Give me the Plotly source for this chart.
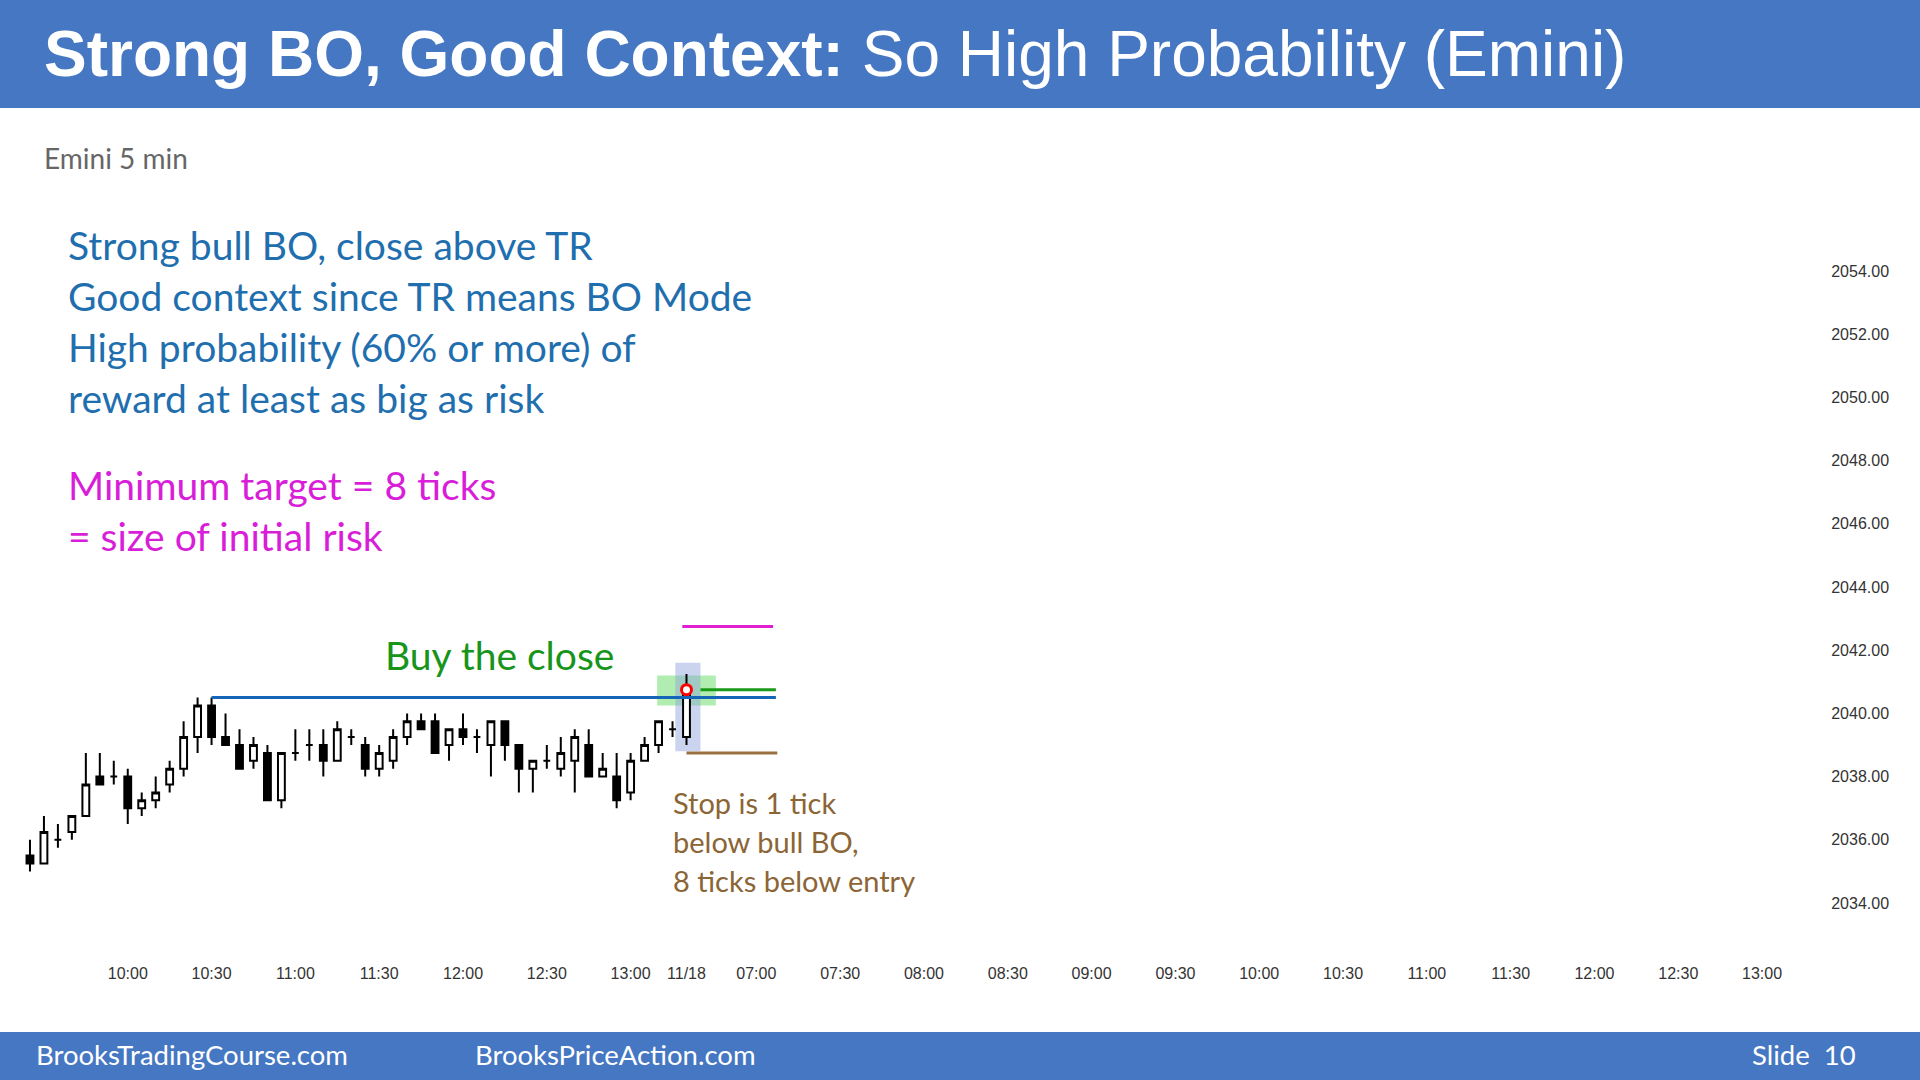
import plotly.graph_objects as go

opens  = [2035.5,2035.25,2036.0,2036.25,2036.75,2038.0,2038.0,2038.0,2037.0,2037.25,2037.75,2038.25,2039.25,2040.25,2039.25,2039.0,2038.5,2038.75,2037.25,2038.75,2039.0,2039.0,
          2038.5,2039.25,2039.0,2038.25,2038.5,2039.25,2039.75,2039.75,2039.0,2039.5,2039.25,2039.0,2039.75,2039.0,2038.25,2038.5,2038.25,2038.5,2039.0,2038.0,2038.0,2037.5,2038.5,2039.0,2039.5,2039.25]
highs  = [2036.0,2036.75,2036.5,2036.75,2038.75,2038.75,2038.5,2038.25,2037.5,2038.0,2038.5,2039.75,2040.5,2040.5,2040.0,2039.5,2039.25,2039.0,2038.75,2039.5,2039.5,2039.5,
          2039.75,2039.5,2039.25,2039.0,2039.5,2040.0,2040.0,2040.0,2039.5,2040.0,2039.5,2039.75,2039.75,2039.0,2038.5,2039.0,2039.25,2039.5,2039.5,2038.75,2038.75,2038.75,2039.25,2039.75,2039.75,2041.25]
lows   = [2035.0,2035.25,2035.75,2036.0,2036.75,2037.75,2037.75,2036.5,2036.75,2037.0,2037.5,2038.0,2038.75,2039.0,2039.0,2038.25,2038.25,2037.25,2037.0,2038.5,2038.5,2038.0,
          2038.5,2039.0,2038.0,2038.0,2038.25,2039.0,2039.5,2038.75,2038.5,2039.0,2038.75,2038.0,2038.5,2037.5,2037.5,2038.25,2038.0,2037.5,2038.0,2038.0,2037.0,2037.25,2038.5,2038.75,2039.25,2039.0]
closes = [2035.25,2036.25,2036.0,2036.75,2037.75,2037.75,2038.0,2037.0,2037.25,2037.5,2038.25,2039.25,2040.25,2039.25,2039.0,2038.25,2039.0,2037.25,2038.75,2038.75,2039.0,2038.5,
          2039.5,2039.25,2038.25,2038.75,2039.25,2039.75,2039.5,2038.75,2039.5,2039.25,2039.25,2039.75,2039.0,2038.25,2038.5,2038.5,2038.75,2039.25,2038.0,2038.25,2037.25,2038.5,2039.0,2039.75,2039.5,2040.75]

tick_pos = [7,13,19,25,31,37,43,47,52,58,64,70,76,82,88,94,100,106,112,118,124]
tick_text = ["10:00","10:30","11:00","11:30","12:00","12:30","13:00","11/18","07:00","07:30","08:00","08:30","09:00","09:30","10:00","10:30","11:00","11:30","12:00","12:30","13:00"]
price_ticks = [2034, 2036, 2038, 2040, 2042, 2044, 2046, 2048, 2050, 2052, 2054]

tr_high = 2040.5
entry = 2040.75
stop = 2038.75
target = 2042.75

W, H = 1920, 1080
L, R, T, B = 16, 1797, 208, 962
def px(x): return (x - L) / (R - L)
def py(y): return (B - y) / (B - T)

x = list(range(len(opens)))
fig = go.Figure()
fig.add_trace(go.Candlestick(x=x, open=opens, high=highs, low=lows, close=closes,
    increasing=dict(line=dict(color="black", width=2), fillcolor="white"),
    decreasing=dict(line=dict(color="black", width=2), fillcolor="black"),
    whiskerwidth=0, showlegend=False, hoverinfo="skip"))
fig.add_trace(go.Scatter(x=[47], y=[entry], mode="markers",
    marker=dict(size=10, color="white", line=dict(color="red", width=3)), showlegend=False))

shapes = []
shapes.append(dict(type="rect", xref="x", yref="y", x0=44.9, x1=49.1, y0=2040.25, y1=2041.2,
                   fillcolor="rgba(100,220,100,0.5)", line=dict(width=0), layer="below"))
shapes.append(dict(type="rect", xref="x", yref="y", x0=46.2, x1=48.0, y0=2038.8, y1=2041.6,
                   fillcolor="rgba(140,160,220,0.45)", line=dict(width=0), layer="below"))
shapes.append(dict(type="line", xref="x", yref="y", x0=13, x1=53.4, y0=tr_high, y1=tr_high, line=dict(color="#1565B8", width=3)))
shapes.append(dict(type="line", xref="x", yref="y", x0=48, x1=53.4, y0=entry, y1=entry, line=dict(color="#1A9A1A", width=3)))
shapes.append(dict(type="line", xref="x", yref="y", x0=46.7, x1=53.2, y0=target, y1=target, line=dict(color="#E020D0", width=3)))
shapes.append(dict(type="line", xref="x", yref="y", x0=47, x1=53.5, y0=stop, y1=stop, line=dict(color="#9B7040", width=3)))
shapes.append(dict(type="rect", xref="paper", yref="paper", x0=px(0), x1=px(W), y0=py(108), y1=py(0),
                   fillcolor="#4577C3", line=dict(width=0)))
shapes.append(dict(type="rect", xref="paper", yref="paper", x0=px(0), x1=px(W), y0=py(H), y1=py(1032),
                   fillcolor="#4577C3", line=dict(width=0)))

ann = []
def add(text, x, y, size, color, font="Lato", xa="left"):
    ann.append(dict(text=text, x=px(x), y=py(y), xref="paper", yref="paper", xanchor=xa, yanchor="middle",
                    showarrow=False, font=dict(size=size, color=color, family=font)))
add("<b>Strong BO, Good Context:</b> So High Probability (Emini)", 42, 54, 64, "white", "Liberation Sans")
add("Emini 5 min", 42, 158, 28, "#666666")
for i, t in enumerate(["Strong bull BO, close above TR", "Good context since TR means BO Mode",
                       "High probability (60% or more) of", "reward at least as big as risk"]):
    add(t, 66, 245 + i * 51, 39, "#1F6FAF")
add("Minimum target = 8 ticks", 66, 485, 39, "#D81ED8")
add("= size of initial risk", 66, 536, 39, "#D81ED8")
add("Buy the close", 500, 655, 39, "#17941A", xa="center")
for i, t in enumerate(["Stop is 1 tick", "below bull BO,", "8 ticks below entry"]):
    add(t, 671, 802 + i * 39, 29, "#8B6535")
add("BrooksTradingCourse.com", 34, 1054, 27.5, "white")
add("BrooksPriceAction.com", 473, 1054, 27.5, "white")
add("Slide  10", 1750, 1054, 27.5, "white")

ylo = 2034 - (B - 903) / 31.6
yhi = 2054 + (271 - T) / 31.6
fig.update_layout(width=W, height=H, margin=dict(l=L, r=W - R, t=T, b=H - B, autoexpand=False),
    paper_bgcolor="white", plot_bgcolor="white", shapes=shapes, annotations=ann,
    xaxis=dict(range=[-1, 126.5], tickvals=tick_pos, ticktext=tick_text, showgrid=False, zeroline=False,
               rangeslider=dict(visible=False), ticks="", showline=False,
               tickfont=dict(family="Liberation Sans", size=16, color="#333333")),
    yaxis=dict(range=[ylo, yhi], side="right", tickvals=price_ticks, tickformat=".2f", showgrid=False, zeroline=False,
               ticks="outside", ticklen=30, tickcolor="white",
               tickfont=dict(family="Liberation Sans", size=16, color="#333333")))
fig.write_html("out.html", config={"displayModeBar": False},
               post_script="document.body.style.margin='0';document.body.style.overflow='hidden';")
